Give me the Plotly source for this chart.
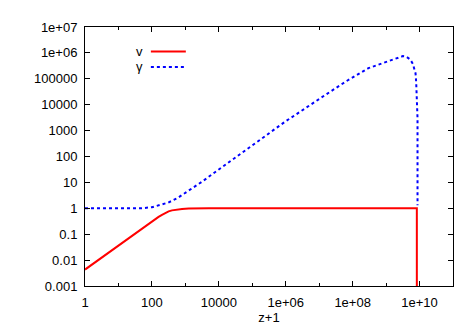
import plotly.graph_objects as go

# v(z+1): red solid
v_z = [1, 10, 39.8, 79.4, 112, 158, 200, 251, 316, 398, 562, 794, 1259, 2512, 5012, 8.3e9, 8.3e9]
v_val = [0.0043, 0.037, 0.135, 0.251, 0.347, 0.468, 0.562, 0.661, 0.759, 0.832, 0.902, 0.944,
         0.977, 0.993, 1.0, 1.0, 1e-6]

# gamma(z+1): blue dotted
g_z = [1, 10, 50, 100, 155, 309, 603, 1000, 3160, 1e4, 3.98e4, 1e5, 1e6, 1e7, 6.3e7,
       2.95e8, 1.17e9, 2e9, 3.16e9, 3.98e9, 5.25e9, 6.3e9, 7.08e9, 7.6e9, 7.94e9,
       8.3e9, 8.7e9, 8.7e9]
g_val = [1.0, 1.0, 1.01, 1.1, 1.26, 1.66, 2.57, 3.9, 10.7, 31.6, 117, 269, 2290, 1.66e4, 7.9e4,
         2.57e5, 4.9e5, 6.3e5, 7.5e5, 7.2e5, 5.6e5, 3.8e5, 2.5e5, 1.6e5, 7.2e4,
         1e4, 3000, 1.3]

x_tickvals = [1, 100, 1e4, 1e6, 1e8, 1e10]
x_ticktext = ["1", "100", "10000", "1e+06", "1e+08", "1e+10"]
x_minor = [10, 1e3, 1e5, 1e7, 1e9, 1e11]
y_tickvals = [0.001, 0.01, 0.1, 1, 10, 100, 1000, 1e4, 1e5, 1e6, 1e7]
y_ticktext = ["0.001", "0.01", "0.1", "1", "10", "100", "1000", "10000",
              "100000", "1e+06", "1e+07"]

FONT = "Liberation Sans, Arial, sans-serif"

fig = go.Figure()
fig.add_trace(go.Scatter(x=v_z, y=v_val, mode="lines", name="v",
                         line=dict(color="#ff0000", width=2)))
fig.add_trace(go.Scatter(x=g_z, y=g_val, mode="lines", name="γ",
                         line=dict(color="#0000ff", width=2, dash="dot")))

axis_common = dict(
    showgrid=False, zeroline=False, ticks="inside", mirror="ticks",
    showline=True, linecolor="#000000", linewidth=1, tickcolor="#000000",
    ticklen=5, ticklabelstandoff=4,
    tickfont=dict(family=FONT, size=13, color="#000000"),
)
fig.update_xaxes(type="log", range=[0, 11], tickvals=x_tickvals, ticktext=x_ticktext,
                 minor=dict(tickvals=x_minor, ticks="inside", ticklen=3,
                            tickcolor="#000000", showgrid=False),
                 title=dict(text="z+1", font=dict(family=FONT, size=13), standoff=4),
                 **axis_common)
fig.update_yaxes(type="log", range=[-3, 7], tickvals=y_tickvals, ticktext=y_ticktext,
                 **axis_common)

# gnuplot-style key: label on the left, sample line on the right
key_rows = [("v", "#ff0000", "solid", 0.905), ("γ", "#0000ff", "dot", 0.846)]
for label, color, dash, yp in key_rows:
    fig.add_annotation(x=0.16, y=yp, xref="paper", yref="paper", text=label,
                       showarrow=False, xanchor="right", yanchor="middle", borderpad=0,
                       font=dict(family=FONT, size=13, color="#000000"))
    fig.add_shape(type="line", xref="paper", yref="paper", x0=0.179, x1=0.274,
                  y0=yp, y1=yp, line=dict(color=color, width=2, dash=dash))

fig.update_layout(
    width=467, height=327,
    margin=dict(l=77, r=22, t=15, b=39),
    plot_bgcolor="white", paper_bgcolor="white",
    showlegend=False,
    font=dict(family=FONT, size=13, color="#000000"),
)
fig.write_html("out.html")
